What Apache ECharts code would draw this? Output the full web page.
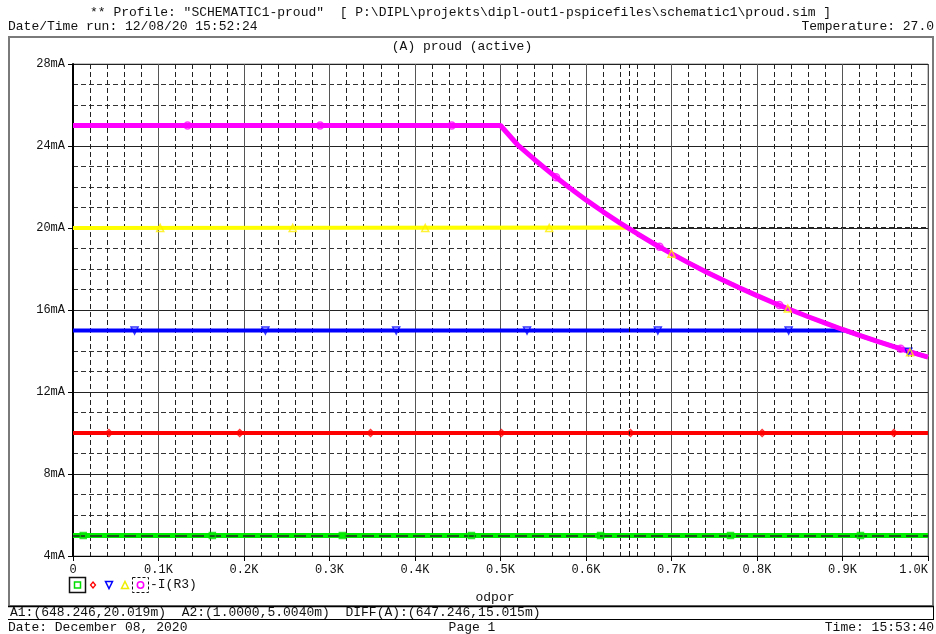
<!DOCTYPE html>
<html>
<head>
<meta charset="utf-8">
<script src="https://cdn.jsdelivr.net/npm/echarts@6/dist/echarts.min.js"></script>
<style>
html,body{margin:0;padding:0;background:#fff;}
#chart{width:936px;height:634px;}
</style>
</head>
<body>
<div id="chart"></div>
<script>
// ---- data (x in kOhm, current in mA) ----
const xTickLabels = ['0','0.1K','0.2K','0.3K','0.4K','0.5K','0.6K','0.7K','0.8K','0.9K','1.0K'];
const yTickLabels = ['4mA','8mA','12mA','16mA','20mA','24mA','28mA'];

const magentaX = [0, 0.50, 0.52, 0.54, 0.56, 0.58, 0.60, 0.62, 0.64, 0.66, 0.68, 0.70, 0.72, 0.74, 0.76, 0.78, 0.80, 0.82, 0.84, 0.86, 0.88, 0.90, 0.92, 0.94, 0.96, 0.98, 1.00];
const magentaY = [25.0, 25.0, 24.06, 23.33, 22.64, 21.99, 21.37, 20.79, 20.24, 19.72, 19.22, 18.75, 18.30, 17.87, 17.46, 17.07, 16.70, 16.34, 16.00, 15.67, 15.36, 15.05, 14.76, 14.48, 14.21, 13.95, 13.70];

const yellowX = [0, 0.648, 0.66, 0.68, 0.70, 0.72, 0.74, 0.76, 0.78, 0.80, 0.82, 0.84, 0.86, 0.88, 0.90, 0.92, 0.94, 0.96, 0.98, 1.00];
const yellowY = [20.0, 20.02, 19.72, 19.22, 18.75, 18.30, 17.87, 17.46, 17.07, 16.70, 16.34, 16.00, 15.67, 15.36, 15.05, 14.76, 14.48, 14.21, 13.95, 13.70];

const blueX = [0, 0.903, 0.92, 0.94, 0.96, 0.98, 1.00];
const blueY = [15.0, 15.0, 14.76, 14.48, 14.21, 13.95, 13.70];

const redX = [0, 1.0];
const redY = [10.0, 10.0];

const greenX = [0, 1.0];
const greenY = [5.0, 5.0];

// marker positions along each trace
const greenMkX = [0.012, 0.163, 0.315, 0.466, 0.617, 0.769, 0.921];
const greenMkY = [5, 5, 5, 5, 5, 5, 5];
const redMkX = [0.042, 0.195, 0.348, 0.501, 0.652, 0.806, 0.960];
const redMkY = [10, 10, 10, 10, 10, 10, 10];
const blueMkX = [0.072, 0.225, 0.378, 0.531, 0.684, 0.837, 0.977];
const blueMkY = [15, 15, 15, 15, 15, 15, 13.96];
const yellowMkX = [0.102, 0.257, 0.412, 0.557, 0.700, 0.836, 0.979];
const yellowMkY = [20, 20, 20, 20, 18.75, 16.07, 13.94];
const magentaMkX = [0.134, 0.289, 0.443, 0.565, 0.686, 0.826, 0.968];
const magentaMkY = [25, 25, 25, 22.47, 19.08, 16.24, 14.11];

// cursors
const cursorA1 = [0.648246, 20.019];
const cursorA2 = [0.001, 5.004];

const FONT = 'Liberation Mono';

function pairs(xs, ys){ return xs.map((x,i)=>[x, ys[i]]); }

function lineSeries(name, xs, ys, color, width, z){
  return {
    name, type:'line', data:pairs(xs,ys), showSymbol:false, symbol:'none',
    lineStyle:{color, width}, z, silent:true, animation:false
  };
}
function markerSeries(xs, ys, color, symbol, rotate, size, z){
  return {
    type:'scatter', data:pairs(xs,ys), symbol, symbolRotate:rotate, symbolSize:size,
    itemStyle:{color:'rgba(0,0,0,0)', borderColor:color, borderWidth:1.5},
    z, silent:true, animation:false
  };
}

const chart = echarts.init(document.getElementById('chart'), null, {renderer:'canvas'});

const option = {
  backgroundColor:'#fff',
  animation:false,
  grid:{left:73, right:8, top:64, bottom:78, show:true, borderColor:'#8a8a8a', borderWidth:1, containLabel:false},
  xAxis:{
    type:'value', min:0, max:1, interval:0.1,
    axisLine:{show:true, onZero:false, lineStyle:{color:'#000', width:1}},
    axisTick:{show:true, length:5, lineStyle:{color:'#000'}},
    axisLabel:{
      color:'#111', fontFamily:FONT, fontSize:12, margin:8, alignMaxLabel:'right',
      formatter:(v)=>xTickLabels[Math.round(v*10)]
    },
    splitLine:{show:true, lineStyle:{color:'#555', width:1, type:'solid'}},
    minorTick:{show:false, splitNumber:5},
    minorSplitLine:{show:true, lineStyle:{color:'#222', width:1, type:[5,3]}}
  },
  yAxis:{
    type:'value', min:4, max:28, interval:4,
    axisLine:{show:true, onZero:false, lineStyle:{color:'#000', width:2}},
    axisTick:{show:true, length:5, lineStyle:{color:'#000'}},
    axisLabel:{
      color:'#111', fontFamily:FONT, fontSize:12, margin:8,
      formatter:(v)=>yTickLabels[Math.round((v-4)/4)]
    },
    splitLine:{show:true, lineStyle:{color:'#222', width:1, type:'solid'}},
    minorTick:{show:false, splitNumber:4},
    minorSplitLine:{show:true, lineStyle:{color:'#333', width:1, type:[5,3]}}
  },
  series:[
    lineSeries('green', greenX, greenY, '#00ee00', 5, 2),
    lineSeries('red', redX, redY, '#ff0000', 4, 3),
    lineSeries('blue', blueX, blueY, '#0000ff', 4, 4),
    lineSeries('yellow', yellowX, yellowY, '#ffff00', 4, 5),
    {
      type:'line', data:[], z:6, silent:true, animation:false,
      markLine:{
        silent:true, symbol:'none', animation:false, label:{show:false},
        data:[
          {yAxis:cursorA1[1], lineStyle:{color:'#222', width:1, type:[5,3]}},
          {yAxis:cursorA2[1], lineStyle:{color:'#222', width:1.5, type:[12,5]}},
          {xAxis:cursorA1[0], lineStyle:{color:'#111', width:1, type:[5,3]}}
        ]
      }
    },
    lineSeries('-I(R3)', magentaX, magentaY, '#ff00ff', 5, 7),
    markerSeries(greenMkX, greenMkY, '#00dd00', 'rect', 0, 6, 8),
    markerSeries(redMkX, redMkY, '#ff0000', 'diamond', 0, 7, 8),
    markerSeries(blueMkX, blueMkY, '#0000ff', 'triangle', 180, 7, 8),
    markerSeries(yellowMkX, yellowMkY, '#ffee00', 'triangle', 0, 7, 9),
    markerSeries(magentaMkX, magentaMkY, '#ff00ff', 'circle', 0, 7, 9)
  ],
  graphic:[
    // header
    {type:'text', left:90, top:6, style:{text:'** Profile: "SCHEMATIC1-proud"  [ P:\\DIPL\\projekts\\dipl-out1-pspicefiles\\schematic1\\proud.sim ]', font:'13px '+FONT, fill:'#111'}},
    {type:'text', left:8, top:20, style:{text:'Date/Time run: 12/08/20 15:52:24', font:'13px '+FONT, fill:'#111'}},
    {type:'text', right:2, top:20, style:{text:'Temperature: 27.0', font:'13px '+FONT, fill:'#111'}},
    // outer frame
    {type:'rect', shape:{x:9, y:37, width:924, height:569}, style:{fill:'none', stroke:'#7a7a7a', lineWidth:2}, z:-1},
    {type:'text', x:462, y:47, style:{text:'(A) proud (active)', font:'13px '+FONT, fill:'#111', align:'center', verticalAlign:'middle'}},
    // x axis title
    {type:'text', x:495, y:598, style:{text:'odpor', font:'13px '+FONT, fill:'#111', align:'center', verticalAlign:'middle'}},
    // legend
    {type:'rect', shape:{x:69.5, y:577.5, width:16, height:15}, style:{fill:'none', stroke:'#111', lineWidth:1.5}},
    {type:'rect', shape:{x:74.5, y:582, width:6, height:6}, style:{fill:'none', stroke:'#00dd00', lineWidth:1.5}},
    {type:'polygon', shape:{points:[[93,582],[95.5,585],[93,588],[90.5,585]]}, style:{fill:'none', stroke:'#ff0000', lineWidth:1.3}},
    {type:'polygon', shape:{points:[[105.5,581.5],[112.5,581.5],[109,588.5]]}, style:{fill:'none', stroke:'#0000ff', lineWidth:1.5}},
    {type:'polygon', shape:{points:[[125,581.5],[128.5,588.5],[121.5,588.5]]}, style:{fill:'none', stroke:'#eeee00', lineWidth:1.5}},
    {type:'rect', shape:{x:132.5, y:577.5, width:16, height:15}, style:{fill:'none', stroke:'#111', lineWidth:1, lineDash:[3,2]}},
    {type:'circle', shape:{cx:140.5, cy:585, r:3.2}, style:{fill:'none', stroke:'#ff00ff', lineWidth:1.5}},
    {type:'text', x:150, y:585, style:{text:'-I(R3)', font:'13px '+FONT, fill:'#111', verticalAlign:'middle'}},
    // cursor row
    {type:'line', shape:{x1:8, y1:606.5, x2:934, y2:606.5}, style:{stroke:'#000', lineWidth:1.5}},
    {type:'line', shape:{x1:8, y1:619.5, x2:934, y2:619.5}, style:{stroke:'#000', lineWidth:1}},
    {type:'line', shape:{x1:933.5, y1:606, x2:933.5, y2:620}, style:{stroke:'#000', lineWidth:1}},
    {type:'text', x:10, y:613, style:{text:'A1:(648.246,20.019m)  A2:(1.0000,5.0040m)  DIFF(A):(647.246,15.015m)', font:'13px '+FONT, fill:'#111', verticalAlign:'middle'}},
    // footer
    {type:'text', x:8, y:628, style:{text:'Date: December 08, 2020', font:'13px '+FONT, fill:'#111', verticalAlign:'middle'}},
    {type:'text', x:472, y:628, style:{text:'Page 1', font:'13px '+FONT, fill:'#111', align:'center', verticalAlign:'middle'}},
    {type:'text', x:934, y:628, style:{text:'Time: 15:53:40', font:'13px '+FONT, fill:'#111', align:'right', verticalAlign:'middle'}}
  ]
};
chart.setOption(option);
</script>
</body>
</html>
